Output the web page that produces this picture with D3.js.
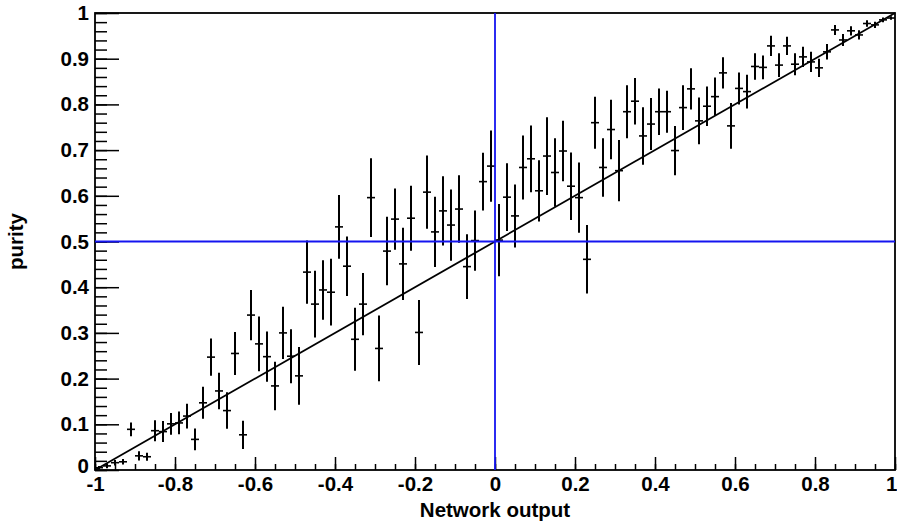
<!DOCTYPE html>
<html>
<head>
<meta charset="utf-8">
<script src="https://cdn.jsdelivr.net/npm/d3@7"></script>
<style>
  body { margin: 0; background: #fff; }
  svg text { font-family: "Liberation Sans", Arial, Helvetica, sans-serif; font-weight: bold; fill: #000; }
</style>
</head>
<body>
<svg id="chart" width="897" height="525"></svg>
<script>
// Histogram bins: centres of 100 bins of width 0.02 over the network output range
const binCenters = [
  -0.99, -0.97, -0.95, -0.93, -0.91, -0.89, -0.87, -0.85, -0.83, -0.81,
  -0.79, -0.77, -0.75, -0.73, -0.71, -0.69, -0.67, -0.65, -0.63, -0.61,
  -0.59, -0.57, -0.55, -0.53, -0.51, -0.49, -0.47, -0.45, -0.43, -0.41,
  -0.39, -0.37, -0.35, -0.33, -0.31, -0.29, -0.27, -0.25, -0.23, -0.21,
  -0.19, -0.17, -0.15, -0.13, -0.11, -0.09, -0.07, -0.05, -0.03, -0.01,
   0.01,  0.03,  0.05,  0.07,  0.09,  0.11,  0.13,  0.15,  0.17,  0.19,
   0.21,  0.23,  0.25,  0.27,  0.29,  0.31,  0.33,  0.35,  0.37,  0.39,
   0.41,  0.43,  0.45,  0.47,  0.49,  0.51,  0.53,  0.55,  0.57,  0.59,
   0.61,  0.63,  0.65,  0.67,  0.69,  0.71,  0.73,  0.75,  0.77,  0.79,
   0.81,  0.83,  0.85,  0.87,  0.89,  0.91,  0.93,  0.95,  0.97,  0.99
];
const binHalfWidth = 0.01;

// Purity per bin
const purity = [
  0.005, 0.009, 0.016, 0.018, 0.089, 0.031, 0.029, 0.086, 0.084, 0.101,
  0.103, 0.118, 0.067, 0.147, 0.247, 0.173, 0.130, 0.255, 0.077, 0.339,
  0.276, 0.248, 0.184, 0.300, 0.249, 0.206, 0.433, 0.363, 0.394, 0.389,
  0.532, 0.446, 0.286, 0.363, 0.596, 0.266, 0.479, 0.549, 0.451, 0.551,
  0.301, 0.608, 0.521, 0.567, 0.536, 0.571, 0.445, 0.502, 0.631, 0.665,
  0.503, 0.597, 0.556, 0.662, 0.681, 0.611, 0.687, 0.651, 0.698, 0.621,
  0.596, 0.461, 0.760, 0.662, 0.745, 0.655, 0.784, 0.807, 0.731, 0.757,
  0.784, 0.784, 0.699, 0.793, 0.834, 0.764, 0.796, 0.817, 0.869, 0.753,
  0.835, 0.828, 0.883, 0.881, 0.928, 0.886, 0.928, 0.888, 0.904, 0.893,
  0.880, 0.915, 0.963, 0.941, 0.961, 0.952, 0.977, 0.974, 0.985, 0.989
];

// Statistical uncertainty on the purity per bin
const purityErr = [
  0.004, 0.005, 0.006, 0.006, 0.015, 0.010, 0.009, 0.023, 0.023, 0.024,
  0.025, 0.027, 0.024, 0.035, 0.041, 0.040, 0.040, 0.047, 0.031, 0.055,
  0.060, 0.055, 0.053, 0.057, 0.059, 0.063, 0.069, 0.073, 0.065, 0.073,
  0.070, 0.065, 0.069, 0.068, 0.086, 0.072, 0.075, 0.067, 0.079, 0.071,
  0.071, 0.080, 0.077, 0.076, 0.078, 0.074, 0.071, 0.066, 0.063, 0.078,
  0.079, 0.074, 0.069, 0.070, 0.073, 0.067, 0.085, 0.075, 0.066, 0.074,
  0.077, 0.075, 0.057, 0.064, 0.065, 0.067, 0.058, 0.051, 0.063, 0.057,
  0.051, 0.046, 0.054, 0.049, 0.045, 0.051, 0.043, 0.042, 0.034, 0.050,
  0.035, 0.037, 0.029, 0.026, 0.022, 0.026, 0.020, 0.024, 0.022, 0.022,
  0.020, 0.017, 0.011, 0.013, 0.010, 0.010, 0.007, 0.007, 0.005, 0.004
];

// Axis ticks and labels
const xTickValues = [-1, -0.8, -0.6, -0.4, -0.2, 0, 0.2, 0.4, 0.6, 0.8, 1];
const xTickLabels = ["-1", "-0.8", "-0.6", "-0.4", "-0.2", "0", "0.2", "0.4", "0.6", "0.8", "1"];
const yTickValues = [0, 0.1, 0.2, 0.3, 0.4, 0.5, 0.6, 0.7, 0.8, 0.9, 1];
const yTickLabels = ["0", "0.1", "0.2", "0.3", "0.4", "0.5", "0.6", "0.7", "0.8", "0.9", "1"];
const xMinorStep = 0.05;
const yMinorStep = 0.02;

// Reference lines: ideal purity = (output + 1) / 2, and the cut at 0 / purity 0.5
const diagonal = [[-1, 0], [1, 1]];
const cutX = 0;
const cutY = 0.5;

const xTitle = "Network output";
const yTitle = "purity";

// ---------------------------------------------------------------------------
const W = 897, H = 525;
const margin = { left: 95, right: 2, top: 13, bottom: 55 };
const labelSize = 20.5;
const svg = d3.select("#chart");

const x = d3.scaleLinear().domain([-1, 1]).range([margin.left, W - margin.right]);
const y = d3.scaleLinear().domain([0, 1]).range([H - margin.bottom, margin.top]);

const xMinor = d3.range(-1, 1 + 1e-9, xMinorStep).map(v => +v.toFixed(4));
const yMinor = d3.range(0, 1 + 1e-9, yMinorStep).map(v => +v.toFixed(4));

svg.append("defs").append("clipPath").attr("id", "plotClip")
  .append("rect")
  .attr("x", x(-1)).attr("y", y(1))
  .attr("width", x(1) - x(-1)).attr("height", y(0) - y(1));

// Minor ticks (drawn inward)
svg.append("g")
  .attr("transform", `translate(0,${y(0)})`)
  .call(d3.axisBottom(x).tickValues(xMinor).tickSize(-6).tickFormat(""))
  .call(g => g.select(".domain").remove())
  .call(g => g.selectAll("line").attr("stroke", "#000").attr("stroke-width", 1.5));

svg.append("g")
  .attr("transform", `translate(${x(-1)},0)`)
  .call(d3.axisLeft(y).tickValues(yMinor).tickSize(-12).tickFormat(""))
  .call(g => g.select(".domain").remove())
  .call(g => g.selectAll("line").attr("stroke", "#000").attr("stroke-width", 1.5));

// Major ticks with labels
svg.append("g")
  .attr("transform", `translate(0,${y(0)})`)
  .call(d3.axisBottom(x).tickValues(xTickValues).tickSize(-13).tickPadding(6)
        .tickFormat((d, i) => xTickLabels[i]))
  .call(g => g.select(".domain").remove())
  .call(g => g.selectAll("line").attr("stroke", "#000").attr("stroke-width", 1.5))
  .call(g => g.selectAll("text").attr("font-size", labelSize).attr("dy", "0.71em")
        .attr("font-family", "'Liberation Sans', Arial, sans-serif").attr("font-weight", "bold"))
  // keep the last label inside the page edge
  .call(g => g.selectAll("text").filter(d => d === 1).attr("text-anchor", "end").attr("dx", 2));

svg.append("g")
  .attr("transform", `translate(${x(-1)},0)`)
  .call(d3.axisLeft(y).tickValues(yTickValues).tickSize(-24).tickPadding(6)
        .tickFormat((d, i) => yTickLabels[i]))
  .call(g => g.select(".domain").remove())
  .call(g => g.selectAll("line").attr("stroke", "#000").attr("stroke-width", 1.5))
  .call(g => g.selectAll("text").attr("font-size", labelSize)
        .attr("font-family", "'Liberation Sans', Arial, sans-serif").attr("font-weight", "bold"))
  // lift the zero label clear of the x-axis "-1"
  .call(g => g.selectAll("text").filter(d => d === 0).attr("dy", "0.12em"));

// Frame
svg.append("rect")
  .attr("x", x(-1)).attr("y", y(1))
  .attr("width", x(1) - x(-1)).attr("height", y(0) - y(1))
  .attr("fill", "none").attr("stroke", "#000").attr("stroke-width", 1.8);

// Error bars
const bins = binCenters.map((c, i) => ({ c, v: purity[i], e: purityErr[i] }));
const bars = svg.append("g").attr("clip-path", "url(#plotClip)")
  .attr("stroke", "#000");

bars.selectAll("line.v").data(bins).join("line").attr("class", "v")
  .attr("x1", d => x(d.c)).attr("x2", d => x(d.c))
  .attr("y1", d => y(d.v - d.e)).attr("y2", d => y(d.v + d.e))
  .attr("stroke-width", 2);

bars.selectAll("line.h").data(bins).join("line").attr("class", "h")
  .attr("x1", d => x(d.c - binHalfWidth)).attr("x2", d => x(d.c + binHalfWidth))
  .attr("y1", d => y(d.v)).attr("y2", d => y(d.v))
  .attr("stroke-width", 1.6);

// Diagonal
svg.append("path")
  .datum(diagonal)
  .attr("d", d3.line().x(d => x(d[0])).y(d => y(d[1])))
  .attr("fill", "none").attr("stroke", "#000").attr("stroke-width", 1.8);

// Cut lines
svg.append("line")
  .attr("x1", x(cutX)).attr("x2", x(cutX))
  .attr("y1", y(0)).attr("y2", y(1))
  .attr("stroke", "#1414f0").attr("stroke-width", 1.8);
svg.append("line")
  .attr("x1", x(-1)).attr("x2", x(1))
  .attr("y1", y(cutY)).attr("y2", y(cutY))
  .attr("stroke", "#1414f0").attr("stroke-width", 1.8);

// Axis titles
svg.append("text")
  .attr("x", x(0)).attr("y", 517)
  .attr("text-anchor", "middle").attr("font-size", labelSize)
  .text(xTitle);

svg.append("text")
  .attr("transform", `translate(23,${y(0.5)}) rotate(-90)`)
  .attr("text-anchor", "middle").attr("font-size", labelSize)
  .text(yTitle);
</script>
</body>
</html>
